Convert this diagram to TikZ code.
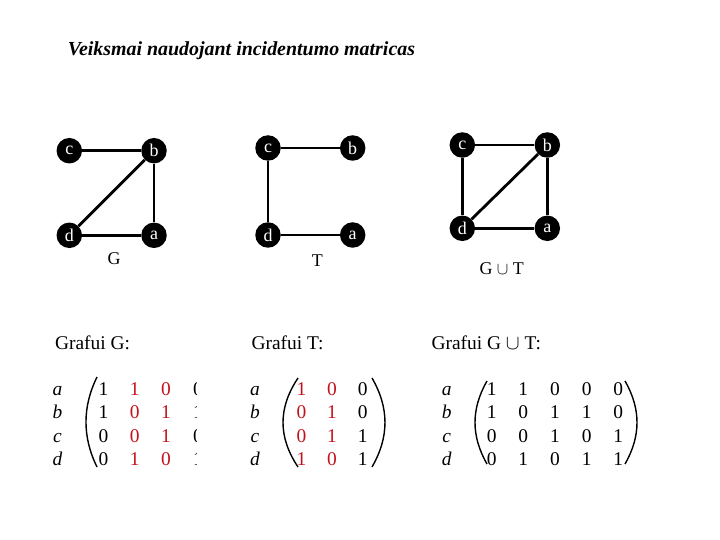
\documentclass[tikz,border=0pt]{standalone}
\usepackage{fontspec}
\setmainfont{Liberation Serif}
\usepackage{xcolor}
\usepackage{tikz}
\usetikzlibrary{positioning}
\definecolor{cellred}{RGB}{196,18,28}

\begin{document}
\begin{tikzpicture}[x=1bp, y=-1bp,
    vert/.style={circle, fill=black, text=white, inner sep=0pt,
                 minimum size=25.5bp, font=\fontsize{18}{18}\selectfont},
    edge/.style={line width=2.8bp},
    glabel/.style={anchor=base, font=\fontsize{18}{18}\selectfont},
    caption/.style={anchor=base west, font=\fontsize{19.5}{20}\selectfont},
    entry/.style={anchor=base, font=\fontsize{19.5}{19.5}\selectfont},
    rowlab/.style={anchor=base, font=\fontsize{19.5}{19.5}\selectfont\itshape},
    paren/.style={line width=1.4bp}]
  \fill[white] (0,0) rectangle (720,540);
  \useasboundingbox (0,0) rectangle (720,540);

  \node[anchor=base, font=\fontsize{20}{20}\selectfont\bfseries\itshape] (title)
    at (241.5,56) {Veiksmai naudojant incidentumo matricas};

  % graph G
  \node[vert] (gc) at (69.3,150.7) {c};
  \node[vert] (gb) at (154,150.7) {b};
  \node[vert] (gd) at (69.3,235.3) {d};
  \node[vert] (ga) at (154,235.3) {a};
  \draw[edge] (gc) -- (gb);
  \draw[edge] (gb) -- (gd);
  \draw[edge] (gb) -- (ga);
  \draw[edge] (gd) -- (ga);
  \node[glabel] (gname) at (114,265) {G};

  % graph T
  \node[vert] (tc) at (268,148) {c};
  \node[vert] (tb) at (352.7,148) {b};
  \node[vert] (td) at (268,235) {d};
  \node[vert] (ta) at (352.7,235) {a};
  \draw[edge] (tc) -- (tb);
  \draw[edge] (tc) -- (td);
  \draw[edge] (td) -- (ta);
  \node[glabel] (tname) at (317.3,266.5) {T};

  % graph G u T
  \node[vert] (uc) at (462.3,145) {c};
  \node[vert] (ub) at (547.3,145) {b};
  \node[vert] (ud) at (462.3,228.3) {d};
  \node[vert] (ua) at (547.3,228.3) {a};
  \draw[edge] (uc) -- (ub);
  \draw[edge] (uc) -- (ud);
  \draw[edge] (ub) -- (ud);
  \draw[edge] (ub) -- (ua);
  \draw[edge] (ud) -- (ua);
  \node[glabel] (uname) at (501.7,275) {G $\cup$ T};

  % incidence matrices
  \node[caption] (gcap) at (51.5,349.3) {Grafui G:};
  \node[caption] (tcap) at (248,349.3) {Grafui T:};
  \node[caption] (ucap) at (428,349.3) {Grafui G $\cup$ T:};

  \foreach \v [count=\r] in {a,b,c,d} {
    \node[rowlab] (grow\r) at (57.5,395.5+23.3*\r-23.3) {\v};
    \node[rowlab] (trow\r) at (255,395.5+23.3*\r-23.3) {\v};
    \node[rowlab] (urow\r) at (446.7,395.5+23.3*\r-23.3) {\v};
  }

  \begin{scope}
    \clip (0,360) rectangle (196.6,480);
    \foreach \c/\x/\vals/\clr in {1/103.5/{1,1,0,0}/black, 2/134.8/{1,0,0,1}/cellred,
                                  3/166.1/{0,1,1,0}/cellred, 4/198/{0,1,0,1}/black}
      \foreach \v [count=\r] in \vals
        \node[entry, text=\clr] (g-\c-\r) at (\x,395.5+23.3*\r-23.3) {\v};
  \end{scope}
  \draw[paren] (97,377) .. controls (82.3,407) and (82.3,437) .. (97,467);

  \foreach \c/\x/\vals/\clr in {1/301.5/{1,0,0,1}/cellred, 2/332.1/{0,1,1,0}/cellred,
                                3/362.7/{0,0,1,1}/black}
    \foreach \v [count=\r] in \vals
      \node[entry, text=\clr] (t-\c-\r) at (\x,395.5+23.3*\r-23.3) {\v};
  \draw[paren] (298,378) .. controls (278,408) and (278,437) .. (298,467);
  \draw[paren] (372,378) .. controls (389.3,408) and (389.3,437) .. (372,467);

  \foreach \c/\x/\vals in {1/491.7/{1,1,0,0}, 2/523.3/{1,0,0,1}, 3/555/{0,1,1,0},
                           4/586.7/{0,1,0,1}, 5/618.3/{0,0,1,1}}
    \foreach \v [count=\r] in \vals
      \node[entry] (u-\c-\r) at (\x,395.5+23.3*\r-23.3) {\v};
  \draw[paren] (487,381) .. controls (471,409) and (471,436) .. (487,464);
  \draw[paren] (625,381) .. controls (641,409) and (641,436) .. (625,464);
\end{tikzpicture}
\end{document}
